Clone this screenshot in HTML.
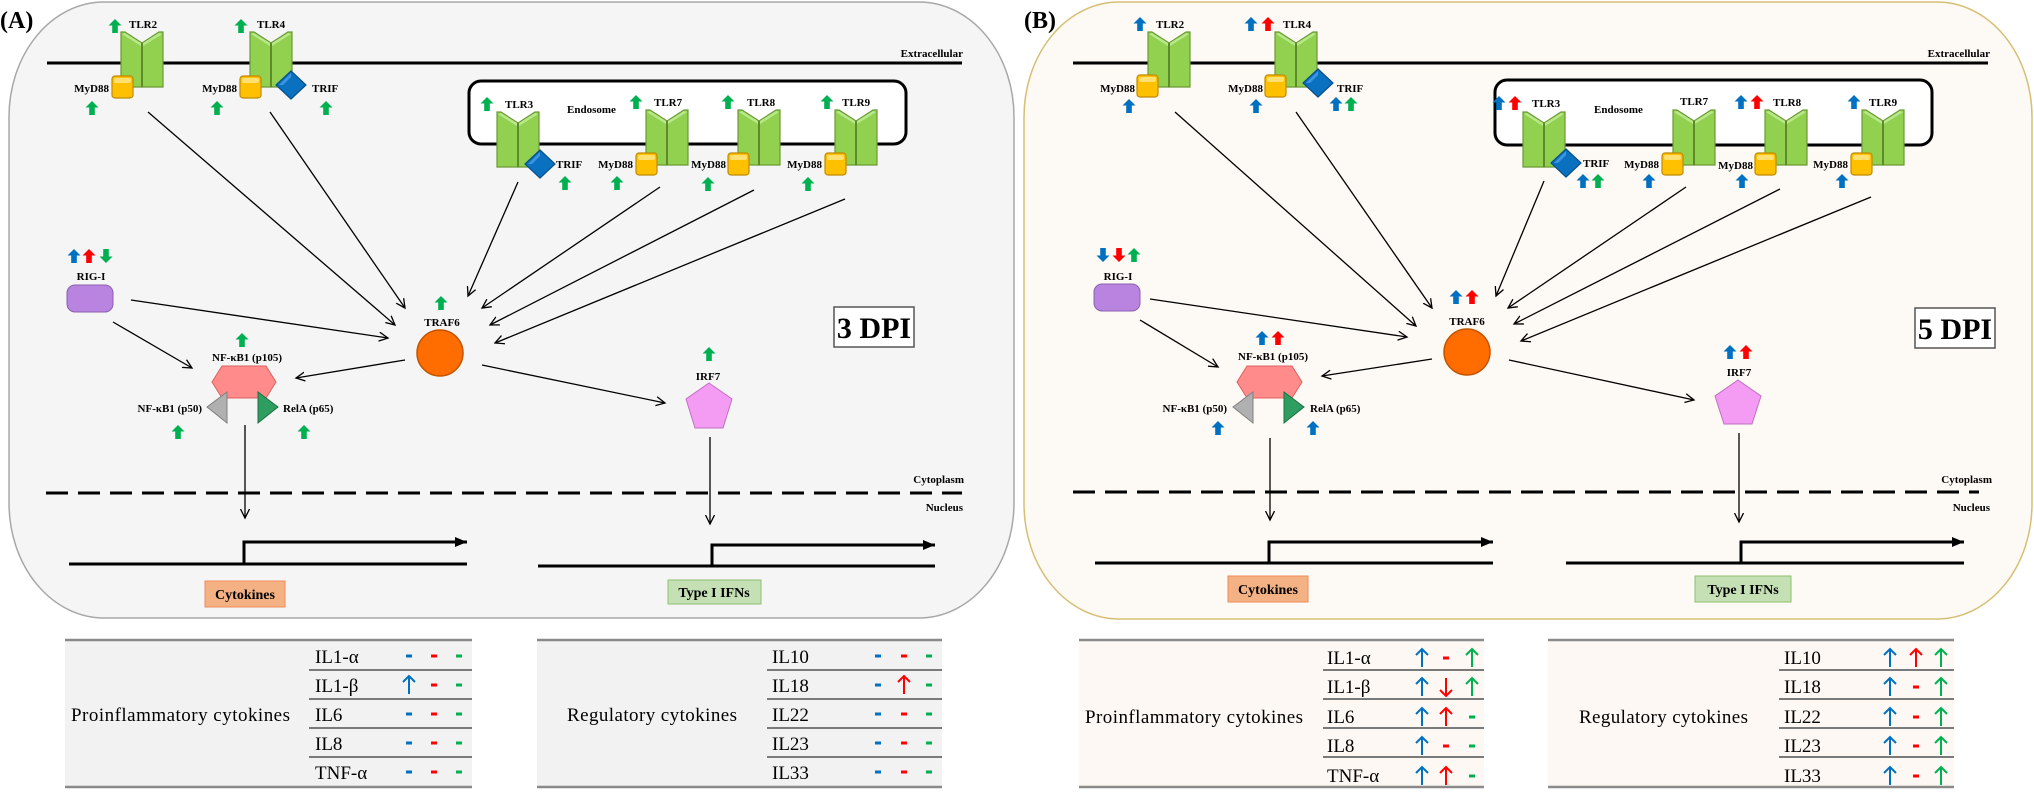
<!DOCTYPE html>
<html><head><meta charset="utf-8"><style>
html,body{margin:0;padding:0;background:#fff;}
svg{display:block;font-family:"Liberation Serif","Times New Roman",serif;}
text{font-family:"Liberation Serif","Times New Roman",serif;}
.b{font-weight:bold;font-size:11px;}
.t{font-size:19px;}
</style></head><body>
<svg width="2034" height="792" viewBox="0 0 2034 792" xmlns="http://www.w3.org/2000/svg" font-family="Liberation Serif, serif">
<defs>
<marker id="ah" markerWidth="12" markerHeight="12" refX="9" refY="5" orient="auto" markerUnits="userSpaceOnUse"><path d="M0,0.5 L9,5 L0,9.5" fill="none" stroke="#000" stroke-width="1.3"/></marker>
<marker id="fa" markerWidth="14" markerHeight="12" refX="12" refY="6" orient="auto" markerUnits="userSpaceOnUse"><path d="M0,1 L12,6 L0,11 Z" fill="#000"/></marker>
<g id="tlr">
<polygon points="0,0 4,0 21,11 21,55 0,55" fill="#92d050" stroke="#6b9a34" stroke-width="1.2"/>
<polygon points="21,11 38,0 42,0 42,55 21,55" fill="#92d050" stroke="#6b9a34" stroke-width="1.2"/>
<polygon points="1,2 4,1 20,11 20,14 4,4" fill="#b8e88a"/>
<polygon points="22,11 38,1 41,2 38,4 22,14" fill="#b8e88a"/>
<line x1="21" y1="11" x2="21" y2="55" stroke="#5f8a2c" stroke-width="2"/>
</g>
<g id="my"><rect x="0" y="0" width="21" height="22" rx="3" fill="#ffc000" stroke="#c08a00" stroke-width="1.2"/><rect x="2" y="2" width="17" height="5" rx="2" fill="#ffe070"/></g>
<g id="trif"><polygon points="0,-14 15,0 0,14 -15,0" fill="#0a70c0" stroke="#08508a" stroke-width="1.2"/><polygon points="0,-12 -12,0 -8,0 0,-8" fill="#3c95e0"/></g>
<path id="ba" d="M0,-7 L6.5,-0.5 L2.8,-0.5 L2.8,7 L-2.8,7 L-2.8,-0.5 L-6.5,-0.5 Z"/>
<path id="tu" d="M0,9 V-9 M-6,-3 L0,-9 L6,-3" fill="none" stroke-width="2"/>
<rect id="dd" x="-3" y="-1.5" width="6" height="3"/>
</defs>

<!-- ================= PANEL A ================= -->
<rect x="9" y="2" width="1005" height="616" rx="95" ry="115" fill="#f5f5f5" stroke="#a8a8a8" stroke-width="1.5"/>
<text x="0" y="28" font-size="24" font-weight="bold">(A)</text>
<line x1="47" y1="63" x2="962" y2="63" stroke="#000" stroke-width="3"/>
<text class="b" x="963" y="57" text-anchor="end">Extracellular</text>
<rect x="469" y="81" width="437" height="63" rx="12" fill="#fff" stroke="#000" stroke-width="3"/>
<text class="b" x="567" y="113">Endosome</text>

<use href="#tlr" x="121" y="32"/><use href="#ba" x="115" y="26" fill="#00b050"/>
<text class="b" x="129" y="28">TLR2</text>
<use href="#my" x="112" y="76"/><text class="b" x="109" y="92" text-anchor="end">MyD88</text>
<use href="#ba" x="92" y="108" fill="#00b050"/>
<use href="#tlr" x="250" y="32"/><use href="#ba" x="241" y="26" fill="#00b050"/>
<text class="b" x="257" y="28">TLR4</text>
<use href="#my" x="240" y="76"/><text class="b" x="237" y="92" text-anchor="end">MyD88</text>
<use href="#trif" x="291" y="85"/><text class="b" x="312" y="92">TRIF</text>
<use href="#ba" x="217" y="108" fill="#00b050"/><use href="#ba" x="326" y="108" fill="#00b050"/>
<use href="#tlr" x="497" y="112"/><use href="#ba" x="487" y="104" fill="#00b050"/>
<text class="b" x="505" y="108">TLR3</text>
<use href="#trif" x="540" y="164"/><text class="b" x="556" y="168">TRIF</text>
<use href="#ba" x="565" y="183" fill="#00b050"/>
<use href="#tlr" x="646" y="110"/><use href="#ba" x="636" y="102" fill="#00b050"/>
<text class="b" x="654" y="106">TLR7</text>
<use href="#my" x="636" y="153"/><text class="b" x="633" y="168" text-anchor="end">MyD88</text>
<use href="#ba" x="617" y="183" fill="#00b050"/>
<use href="#tlr" x="738" y="110"/><use href="#ba" x="728" y="102" fill="#00b050"/>
<text class="b" x="747" y="106">TLR8</text>
<use href="#my" x="728" y="153"/><text class="b" x="726" y="168" text-anchor="end">MyD88</text>
<use href="#ba" x="708" y="184" fill="#00b050"/>
<use href="#tlr" x="835" y="110"/><use href="#ba" x="827" y="102" fill="#00b050"/>
<text class="b" x="842" y="106">TLR9</text>
<use href="#my" x="825" y="153"/><text class="b" x="822" y="168" text-anchor="end">MyD88</text>
<use href="#ba" x="808" y="184" fill="#00b050"/>

<g stroke="#000" stroke-width="1.3" marker-end="url(#ah)">
<line x1="148" y1="112" x2="395" y2="325"/>
<line x1="270" y1="112" x2="405" y2="308"/>
<line x1="518" y1="182" x2="468" y2="296"/>
<line x1="660" y1="187" x2="482" y2="308"/>
<line x1="754" y1="190" x2="490" y2="325"/>
<line x1="845" y1="199" x2="495" y2="343"/>
<line x1="131" y1="300" x2="388" y2="338"/>
<line x1="113" y1="322" x2="192" y2="368"/>
<line x1="405" y1="360" x2="296" y2="378"/>
<line x1="482" y1="365" x2="665" y2="403"/>
<line x1="245" y1="425" x2="245" y2="518"/>
<line x1="710" y1="437" x2="710" y2="524"/>
</g>

<use href="#ba" x="74" y="256" fill="#0070c0"/><use href="#ba" x="89" y="256" fill="#ff0000"/>
<use href="#ba" transform="translate(106,256) rotate(180)" fill="#00b050"/>
<text class="b" x="91" y="280" text-anchor="middle">RIG-I</text>
<rect x="67" y="285" width="46" height="27" rx="8" fill="#b884e0" stroke="#8a5fb0"/>
<use href="#ba" x="441" y="303" fill="#00b050"/>
<text class="b" x="442" y="326" text-anchor="middle">TRAF6</text>
<circle cx="440" cy="353" r="23" fill="#ff6d00" stroke="#c45500" stroke-width="1.5"/>
<use href="#ba" x="242" y="340" fill="#00b050"/>
<text class="b" x="247" y="361" text-anchor="middle">NF-κB1 (p105)</text>
<polygon points="222,366 266,366 276,382 266,398 222,398 212,382" fill="#ff8b8b" stroke="#e06060"/>
<polygon points="227,392 227,423 207,407" fill="#b0b0b0" stroke="#808080"/>
<polygon points="258,392 258,423 278,407" fill="#2e9e60" stroke="#1f7040"/>
<text class="b" x="202" y="412" text-anchor="end">NF-κB1 (p50)</text>
<text class="b" x="283" y="412">RelA (p65)</text>
<use href="#ba" x="178" y="432" fill="#00b050"/><use href="#ba" x="304" y="432" fill="#00b050"/>
<use href="#ba" x="709" y="354" fill="#00b050"/>
<text class="b" x="708" y="380" text-anchor="middle">IRF7</text>
<polygon points="709,383 732,399 723,428 695,428 686,399" fill="#f49cf4" stroke="#c070c0"/>
<rect x="834" y="307" width="80" height="40" fill="#fff" stroke="#555" stroke-width="1.5"/>
<text x="874" y="338" font-size="30" font-weight="bold" text-anchor="middle">3 DPI</text>
<line x1="46" y1="493" x2="962" y2="493" stroke="#000" stroke-width="3" stroke-dasharray="22 10"/>
<text class="b" x="964" y="483" text-anchor="end">Cytoplasm</text>
<text class="b" x="963" y="511" text-anchor="end">Nucleus</text>
<line x1="69" y1="564" x2="467" y2="564" stroke="#000" stroke-width="3"/>
<path d="M244,564 V542 H467" fill="none" stroke="#000" stroke-width="3" marker-end="url(#fa)"/>
<line x1="538" y1="566" x2="935" y2="566" stroke="#000" stroke-width="3"/>
<path d="M712,566 V545 H935" fill="none" stroke="#000" stroke-width="3" marker-end="url(#fa)"/>
<rect x="205" y="581" width="80" height="26" fill="#f4b183" stroke="#f08c5a"/>
<text x="245" y="599" font-size="14" font-weight="bold" text-anchor="middle">Cytokines</text>
<rect x="668" y="580" width="93" height="24" fill="#c5e0b4" stroke="#8cc26e"/>
<text x="714" y="597" font-size="14" font-weight="bold" text-anchor="middle">Type I IFNs</text>

<!-- ================= PANEL B ================= -->
<rect x="1024" y="2" width="1008" height="617" rx="95" ry="115" fill="#fdf9f4" stroke="#d6bf73" stroke-width="1.5"/>
<text x="1024" y="28" font-size="24" font-weight="bold">(B)</text>
<line x1="1073" y1="63" x2="1988" y2="63" stroke="#000" stroke-width="3"/>
<text class="b" x="1990" y="57" text-anchor="end">Extracellular</text>
<rect x="1495" y="80" width="437" height="65" rx="12" fill="#fff" stroke="#000" stroke-width="3"/>
<text class="b" x="1594" y="113">Endosome</text>

<use href="#tlr" x="1148" y="32"/><use href="#ba" x="1140" y="24" fill="#0070c0"/>
<text class="b" x="1156" y="28">TLR2</text>
<use href="#my" x="1137" y="75"/><text class="b" x="1135" y="92" text-anchor="end">MyD88</text>
<use href="#ba" x="1129" y="106" fill="#0070c0"/>
<use href="#tlr" x="1275" y="32"/><use href="#ba" x="1251" y="24" fill="#0070c0"/><use href="#ba" x="1268" y="24" fill="#ff0000"/>
<text class="b" x="1283" y="28">TLR4</text>
<use href="#my" x="1265" y="75"/><text class="b" x="1263" y="92" text-anchor="end">MyD88</text>
<use href="#trif" x="1318" y="83"/><text class="b" x="1337" y="92">TRIF</text>
<use href="#ba" x="1256" y="106" fill="#0070c0"/>
<use href="#ba" x="1336" y="104" fill="#0070c0"/><use href="#ba" x="1351" y="104" fill="#00b050"/>
<use href="#tlr" x="1523" y="112"/><use href="#ba" x="1499" y="103" fill="#0070c0"/><use href="#ba" x="1515" y="103" fill="#ff0000"/>
<text class="b" x="1532" y="107">TLR3</text>
<use href="#trif" x="1566" y="163"/><text class="b" x="1583" y="167">TRIF</text>
<use href="#ba" x="1583" y="181" fill="#0070c0"/><use href="#ba" x="1598" y="181" fill="#00b050"/>
<use href="#tlr" x="1673" y="110"/>
<text class="b" x="1680" y="105">TLR7</text>
<use href="#my" x="1662" y="153"/><text class="b" x="1659" y="168" text-anchor="end">MyD88</text>
<use href="#ba" x="1649" y="181" fill="#0070c0"/>
<use href="#tlr" x="1765" y="110"/><use href="#ba" x="1741" y="102" fill="#0070c0"/><use href="#ba" x="1757" y="102" fill="#ff0000"/>
<text class="b" x="1773" y="106">TLR8</text>
<use href="#my" x="1755" y="153"/><text class="b" x="1753" y="169" text-anchor="end">MyD88</text>
<use href="#ba" x="1742" y="181" fill="#0070c0"/>
<use href="#tlr" x="1862" y="110"/><use href="#ba" x="1854" y="102" fill="#0070c0"/>
<text class="b" x="1869" y="106">TLR9</text>
<use href="#my" x="1851" y="153"/><text class="b" x="1848" y="168" text-anchor="end">MyD88</text>
<use href="#ba" x="1842" y="181" fill="#0070c0"/>

<g stroke="#000" stroke-width="1.3" marker-end="url(#ah)">
<line x1="1175" y1="112" x2="1416" y2="326"/>
<line x1="1296" y1="112" x2="1432" y2="308"/>
<line x1="1544" y1="181" x2="1496" y2="296"/>
<line x1="1686" y1="187" x2="1508" y2="308"/>
<line x1="1780" y1="189" x2="1514" y2="324"/>
<line x1="1871" y1="197" x2="1521" y2="341"/>
<line x1="1150" y1="299" x2="1407" y2="337"/>
<line x1="1140" y1="320" x2="1218" y2="367"/>
<line x1="1432" y1="359" x2="1322" y2="376"/>
<line x1="1509" y1="360" x2="1694" y2="400"/>
<line x1="1270" y1="438" x2="1270" y2="520"/>
<line x1="1739" y1="433" x2="1739" y2="522"/>
</g>

<use href="#ba" transform="translate(1103,255) rotate(180)" fill="#0070c0"/>
<use href="#ba" transform="translate(1119,255) rotate(180)" fill="#ff0000"/>
<use href="#ba" x="1134" y="255" fill="#00b050"/>
<text class="b" x="1118" y="280" text-anchor="middle">RIG-I</text>
<rect x="1094" y="284" width="46" height="27" rx="8" fill="#b884e0" stroke="#8a5fb0"/>
<use href="#ba" x="1456" y="297" fill="#0070c0"/><use href="#ba" x="1472" y="297" fill="#ff0000"/>
<text class="b" x="1467" y="325" text-anchor="middle">TRAF6</text>
<circle cx="1467" cy="352" r="23" fill="#ff6d00" stroke="#c45500" stroke-width="1.5"/>
<use href="#ba" x="1262" y="338" fill="#0070c0"/><use href="#ba" x="1278" y="338" fill="#ff0000"/>
<text class="b" x="1273" y="360" text-anchor="middle">NF-κB1 (p105)</text>
<polygon points="1247,366 1292,366 1302,382 1292,398 1247,398 1237,382" fill="#ff8b8b" stroke="#e06060"/>
<polygon points="1253,392 1253,423 1233,407" fill="#b0b0b0" stroke="#808080"/>
<polygon points="1284,392 1284,423 1304,407" fill="#2e9e60" stroke="#1f7040"/>
<text class="b" x="1227" y="412" text-anchor="end">NF-κB1 (p50)</text>
<text class="b" x="1310" y="412">RelA (p65)</text>
<use href="#ba" x="1218" y="428" fill="#0070c0"/><use href="#ba" x="1313" y="428" fill="#0070c0"/>
<use href="#ba" x="1730" y="352" fill="#0070c0"/><use href="#ba" x="1746" y="352" fill="#ff0000"/>
<text class="b" x="1739" y="376" text-anchor="middle">IRF7</text>
<polygon points="1738,380 1761,396 1752,424 1724,424 1715,396" fill="#f49cf4" stroke="#c070c0"/>
<rect x="1915" y="308" width="80" height="40" fill="#fff" stroke="#555" stroke-width="1.5"/>
<text x="1955" y="339" font-size="30" font-weight="bold" text-anchor="middle">5 DPI</text>
<line x1="1073" y1="492" x2="1979" y2="492" stroke="#000" stroke-width="3" stroke-dasharray="22 10"/>
<text class="b" x="1992" y="483" text-anchor="end">Cytoplasm</text>
<text class="b" x="1990" y="511" text-anchor="end">Nucleus</text>
<line x1="1095" y1="563" x2="1493" y2="563" stroke="#000" stroke-width="3"/>
<path d="M1269,563 V542 H1493" fill="none" stroke="#000" stroke-width="3" marker-end="url(#fa)"/>
<line x1="1566" y1="563" x2="1964" y2="563" stroke="#000" stroke-width="3"/>
<path d="M1741,563 V542 H1964" fill="none" stroke="#000" stroke-width="3" marker-end="url(#fa)"/>
<rect x="1228" y="576" width="80" height="26" fill="#f4b183" stroke="#f08c5a"/>
<text x="1268" y="594" font-size="14" font-weight="bold" text-anchor="middle">Cytokines</text>
<rect x="1695" y="576" width="96" height="26" fill="#c5e0b4" stroke="#8cc26e"/>
<text x="1743" y="594" font-size="14" font-weight="bold" text-anchor="middle">Type I IFNs</text>

<!-- ================= TABLES ================= -->
<g>
<rect x="65" y="640" width="407" height="147" fill="#f2f2f2"/>
<rect x="537" y="640" width="405" height="147" fill="#f2f2f2"/>
<rect x="1079" y="640" width="405" height="147" fill="#fdf8f3"/>
<rect x="1548" y="640" width="406" height="147" fill="#fdf8f3"/>
<g stroke="#8a8a8a" stroke-width="2.5">
<line x1="65" y1="640" x2="472" y2="640"/><line x1="65" y1="787" x2="472" y2="787"/>
<line x1="537" y1="640" x2="942" y2="640"/><line x1="537" y1="787" x2="942" y2="787"/>
<line x1="1079" y1="640" x2="1484" y2="640"/><line x1="1079" y1="787" x2="1484" y2="787"/>
<line x1="1548" y1="640" x2="1954" y2="640"/><line x1="1548" y1="787" x2="1954" y2="787"/>
</g>
<g stroke="#7a7a7a" stroke-width="2">
<line x1="309" y1="670" x2="472" y2="670"/><line x1="309" y1="699" x2="472" y2="699"/><line x1="309" y1="728" x2="472" y2="728"/><line x1="309" y1="757" x2="472" y2="757"/>
<line x1="767" y1="670" x2="942" y2="670"/><line x1="767" y1="699" x2="942" y2="699"/><line x1="767" y1="728" x2="942" y2="728"/><line x1="767" y1="757" x2="942" y2="757"/>
<line x1="1323" y1="670" x2="1484" y2="670"/><line x1="1323" y1="699" x2="1484" y2="699"/><line x1="1323" y1="728" x2="1484" y2="728"/><line x1="1323" y1="757" x2="1484" y2="757"/>
<line x1="1779" y1="670" x2="1954" y2="670"/><line x1="1779" y1="699" x2="1954" y2="699"/><line x1="1779" y1="728" x2="1954" y2="728"/><line x1="1779" y1="757" x2="1954" y2="757"/>
</g>
<text class="t" x="71" y="721" textLength="219">Proinflammatory cytokines</text>
<text class="t" x="315" y="663">IL1-α</text><text class="t" x="315" y="692">IL1-β</text><text class="t" x="315" y="721">IL6</text><text class="t" x="315" y="750">IL8</text><text class="t" x="315" y="779">TNF-α</text>
<text class="t" x="567" y="721" textLength="170">Regulatory cytokines</text>
<text class="t" x="772" y="663">IL10</text><text class="t" x="772" y="692">IL18</text><text class="t" x="772" y="721">IL22</text><text class="t" x="772" y="750">IL23</text><text class="t" x="772" y="779">IL33</text>
<text class="t" x="1085" y="723" textLength="218">Proinflammatory cytokines</text>
<text class="t" x="1327" y="664">IL1-α</text><text class="t" x="1327" y="693">IL1-β</text><text class="t" x="1327" y="723">IL6</text><text class="t" x="1327" y="752">IL8</text><text class="t" x="1327" y="782">TNF-α</text>
<text class="t" x="1579" y="723" textLength="169">Regulatory cytokines</text>
<text class="t" x="1784" y="664">IL10</text><text class="t" x="1784" y="693">IL18</text><text class="t" x="1784" y="723">IL22</text><text class="t" x="1784" y="752">IL23</text><text class="t" x="1784" y="782">IL33</text>
</g>
<g>
<use href="#dd" x="409" y="656" fill="#0070c0"/><use href="#dd" x="434" y="656" fill="#ff0000"/><use href="#dd" x="459" y="656" fill="#00b050"/>
<use href="#tu" x="409" y="685" stroke="#0070c0"/><use href="#dd" x="434" y="685" fill="#ff0000"/><use href="#dd" x="459" y="685" fill="#00b050"/>
<use href="#dd" x="409" y="714" fill="#0070c0"/><use href="#dd" x="434" y="714" fill="#ff0000"/><use href="#dd" x="459" y="714" fill="#00b050"/>
<use href="#dd" x="409" y="743" fill="#0070c0"/><use href="#dd" x="434" y="743" fill="#ff0000"/><use href="#dd" x="459" y="743" fill="#00b050"/>
<use href="#dd" x="409" y="772" fill="#0070c0"/><use href="#dd" x="434" y="772" fill="#ff0000"/><use href="#dd" x="459" y="772" fill="#00b050"/>
</g>
<g>
<use href="#dd" x="878" y="656" fill="#0070c0"/><use href="#dd" x="904" y="656" fill="#ff0000"/><use href="#dd" x="929" y="656" fill="#00b050"/>
<use href="#dd" x="878" y="685" fill="#0070c0"/><use href="#tu" x="904" y="685" stroke="#ff0000"/><use href="#dd" x="929" y="685" fill="#00b050"/>
<use href="#dd" x="878" y="714" fill="#0070c0"/><use href="#dd" x="904" y="714" fill="#ff0000"/><use href="#dd" x="929" y="714" fill="#00b050"/>
<use href="#dd" x="878" y="743" fill="#0070c0"/><use href="#dd" x="904" y="743" fill="#ff0000"/><use href="#dd" x="929" y="743" fill="#00b050"/>
<use href="#dd" x="878" y="772" fill="#0070c0"/><use href="#dd" x="904" y="772" fill="#ff0000"/><use href="#dd" x="929" y="772" fill="#00b050"/>
</g>
<g>
<use href="#tu" x="1422" y="658" stroke="#0070c0"/><use href="#dd" x="1446" y="658" fill="#ff0000"/><use href="#tu" x="1472" y="658" stroke="#00b050"/>
<use href="#tu" x="1422" y="687" stroke="#0070c0"/><use href="#tu" transform="translate(1446,687) rotate(180)" stroke="#ff0000"/><use href="#tu" x="1472" y="687" stroke="#00b050"/>
<use href="#tu" x="1422" y="717" stroke="#0070c0"/><use href="#tu" x="1446" y="717" stroke="#ff0000"/><use href="#dd" x="1472" y="717" fill="#00b050"/>
<use href="#tu" x="1422" y="746" stroke="#0070c0"/><use href="#dd" x="1446" y="746" fill="#ff0000"/><use href="#dd" x="1472" y="746" fill="#00b050"/>
<use href="#tu" x="1422" y="776" stroke="#0070c0"/><use href="#tu" x="1446" y="776" stroke="#ff0000"/><use href="#dd" x="1472" y="776" fill="#00b050"/>
</g>
<g>
<use href="#tu" x="1890" y="658" stroke="#0070c0"/><use href="#tu" x="1916" y="658" stroke="#ff0000"/><use href="#tu" x="1941" y="658" stroke="#00b050"/>
<use href="#tu" x="1890" y="687" stroke="#0070c0"/><use href="#dd" x="1916" y="687" fill="#ff0000"/><use href="#tu" x="1941" y="687" stroke="#00b050"/>
<use href="#tu" x="1890" y="717" stroke="#0070c0"/><use href="#dd" x="1916" y="717" fill="#ff0000"/><use href="#tu" x="1941" y="717" stroke="#00b050"/>
<use href="#tu" x="1890" y="746" stroke="#0070c0"/><use href="#dd" x="1916" y="746" fill="#ff0000"/><use href="#tu" x="1941" y="746" stroke="#00b050"/>
<use href="#tu" x="1890" y="776" stroke="#0070c0"/><use href="#dd" x="1916" y="776" fill="#ff0000"/><use href="#tu" x="1941" y="776" stroke="#00b050"/>
</g>
</svg>
</body></html>
